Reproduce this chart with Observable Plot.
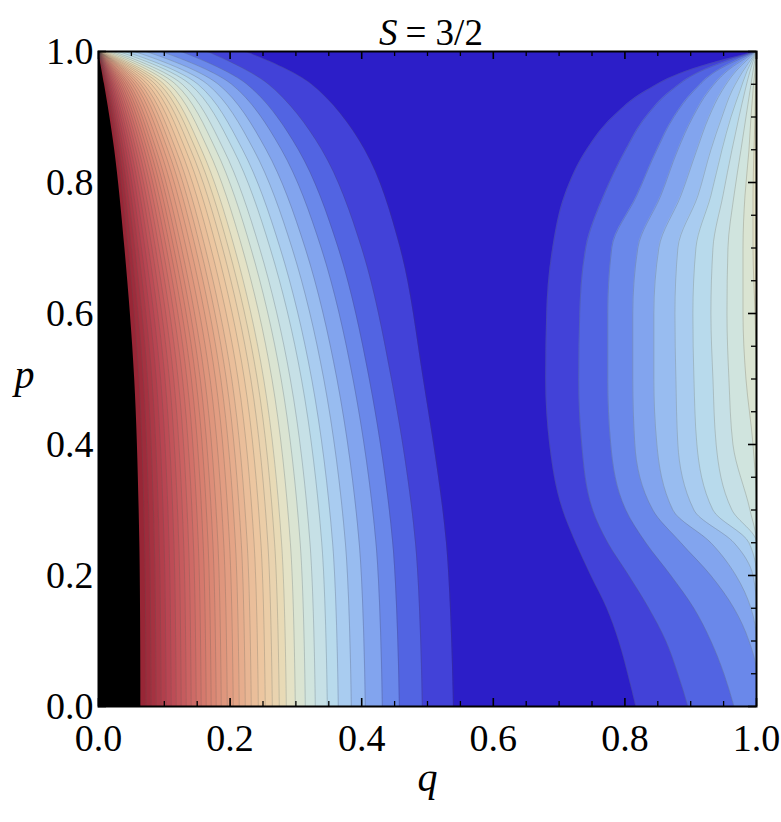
<!DOCTYPE html>
<html>
<head>
<meta charset="utf-8">
<script src="https://cdn.jsdelivr.net/npm/d3@7"></script>
<script src="https://cdn.jsdelivr.net/npm/@observablehq/plot@0.6"></script>
<style>
  html, body { margin: 0; padding: 0; background: #ffffff; }
  svg text { font-family: "Liberation Serif", "DejaVu Serif", "DejaVu Sans", sans-serif; font-stretch: condensed; font-weight: normal; }
</style>
</head>
<body>
<div id="chart"></div>
<script>
// ---------------- Data ----------------
const titleSymbol = "S";
const titleValue = "= 3/2";
const xLabel = "q";
const yLabel = "p";
const majorTicks = [0, 0.2, 0.4, 0.6, 0.8, 1.0];
const tickLabels = ["0.0", "0.2", "0.4", "0.6", "0.8", "1.0"];
const minorTicks = [0.05, 0.1, 0.15, 0.25, 0.3, 0.35, 0.45, 0.5, 0.55, 0.65, 0.7, 0.75, 0.85, 0.9, 0.95];

// Left family of contours: q-position of each contour line (k0 = edge of the
// dark-blue plateau ... k37 = edge of the black region) at the p-levels below.
const leftP = [0, 0.25, 0.5, 0.7, 0.85, 0.95, 1];
const leftQ_p000 = [.5396,.4924,.4574,.4315,.4056,.3843,.3645,.3478,.3295,.3143,.2991,.2854,.2747,.2641,.2534,.2428,.2321,.2230,.2138,.2047,.1956,.1865,.1788,.1712,.1636,.1560,.1484,.1408,.1332,.1256,.1180,.1104,.1027,.0951,.0875,.0799,.0723,.0647];
const leftQ_p025 = [.5288,.4818,.4472,.4217,.3962,.3752,.3558,.3393,.3214,.3065,.2916,.2782,.2676,.2573,.2468,.2364,.2259,.2170,.2080,.1991,.1903,.1814,.1738,.1664,.1590,.1516,.1442,.1368,.1294,.1220,.1146,.1072,.0997,.0923,.0849,.0775,.0701,.0628];
const leftQ_p050 = [.4937,.4453,.4116,.3868,.3624,.3424,.3240,.3084,.2915,.2775,.2636,.2510,.2412,.2315,.2217,.2121,.2025,.1942,.1859,.1778,.1696,.1615,.1546,.1479,.1411,.1344,.1277,.1210,.1143,.1077,.1011,.0944,.0878,.0812,.0746,.0681,.0615,.0550];
const leftQ_p070 = [.4587,.4000,.3644,.3385,.3141,.2941,.2760,.2608,.2448,.2315,.2185,.2068,.1975,.1885,.1795,.1708,.1622,.1548,.1475,.1402,.1332,.1262,.1203,.1144,.1087,.1031,.0975,.0920,.0866,.0812,.0759,.0706,.0653,.0602,.0551,.0500,.0451,.0401];
const leftQ_p085 = [.4047,.3394,.3038,.2781,.2548,.2359,.2190,.2049,.1904,.1784,.1668,.1565,.1482,.1401,.1324,.1249,.1177,.1113,.1052,.0992,.0935,.0878,.0831,.0784,.0739,.0696,.0653,.0611,.0570,.0531,.0492,.0454,.0417,.0381,.0346,.0312,.0278,.0246];
const leftQ_p095 = [.3238,.2583,.2256,.2023,.1820,.1655,.1511,.1391,.1272,.1173,.1079,.0997,.0929,.0864,.0804,.0745,.0691,.0642,.0597,.0553,.0512,.0472,.0439,.0406,.0375,.0346,.0318,.0292,.0266,.0242,.0219,.0198,.0177,.0158,.0139,.0122,.0106,.0091];
const leftQ_p100 = [.223,.165,.125,.095,.072,.054,.040,.030,.022,.016,.011,.007,.004,.002,.001,0,0,0,0,0,0,0,0,0,0,0,0,0,0,0,0,0,0,0,0,0,0,0];

// Right family of contours (r0 = edge of the dark-blue plateau ... r10 hugging the right edge):
// q-position of each line at the p-levels below (1 = on the right edge).
const rightP = [0, 0.05, 0.1, 0.15, 0.2, 0.25, 0.3, 0.4, 0.5, 0.6, 0.7, 0.78, 0.85, 0.9, 0.94, 0.97, 1];
const rightQ_r0  = [.8166,.8044,.7907,.7725,.7481,.7252,.7055,.6857,.6796,.6811,.6903,.7085,.7420,.7816,.8318,.8928,1];
const rightQ_r1  = [.8958,.8805,.8623,.8364,.8059,.7740,.7511,.7344,.7298,.7314,.7405,.7679,.8014,.8318,.8699,.9155,1];
const rightQ_r2  = [.9658,.9505,.9307,.9049,.8699,.8318,.8014,.7785,.7740,.7740,.7800,.8181,.8486,.8744,.9049,.9387,1];
const rightQ_r3  = [1,1,.9886,.9658,.9307,.8851,.8425,.8151,.8120,.8120,.8196,.8546,.8805,.9033,.9277,.9551,1];
const rightQ_r4  = [1,1,1,.9916,.9688,.9307,.8729,.8486,.8440,.8440,.8516,.8851,.9094,.9277,.9475,.9688,1];
const rightQ_r5  = [1,1,1,1,.9947,.9658,.9049,.8805,.8775,.8760,.8805,.9110,.9307,.9475,.9627,.9795,1];
const rightQ_r6  = [1,1,1,1,1,.9886,.9338,.9094,.9049,.9033,.9079,.9307,.9475,.9612,.9749,.9855,1];
const rightQ_r7  = [1,1,1,1,1,1,.9627,.9387,.9338,.9307,.9338,.9490,.9627,.9734,.9825,.9901,1];
const rightQ_r8  = [1,1,1,1,1,1,.9901,.9642,.9581,.9551,.9566,.9658,.9764,.9840,.9901,.9947,1];
const rightQ_r9  = [1,1,1,1,1,1,1,.9947,.9840,.9795,.9795,.9825,.9886,.9916,.9947,.9977,1];
const rightQ_r10 = [1,1,1,1,1,1,1,1,1,.9977,.9947,.9947,.9962,.9977,.9985,1,1];

// Colour of each band (index 0 = plateau, 38 = black clipped region)
const bandStops  = [0, 1, 2, 3, 4, 5, 6, 7, 8, 9, 10, 11, 12, 15, 19, 24, 28, 32, 37, 38];
const bandColors = ["#2c1ec8","#4242d8","#5264e2","#6a88ea","#82a4ee","#98bcf0","#a9ccf0","#b8daec","#c6e0e6","#d0e4de","#dae4d2","#e4e2c6","#e8dab6","#ecc6a0","#e4a486","#d88070","#cb6262","#b84552","#982636","#000000"];

// ---------------- Build tables ----------------
const leftRows = [leftQ_p000, leftQ_p025, leftQ_p050, leftQ_p070, leftQ_p085, leftQ_p095, leftQ_p100];
const nLeft = leftQ_p000.length;
const leftLines = [];
for (let k = 0; k < nLeft; k++) {
  for (let j = 0; j < leftP.length; j++) {
    leftLines.push({line: k, band: k + 1, p: leftP[j], q: leftRows[j][k]});
  }
}
const rightCols = [rightQ_r0, rightQ_r1, rightQ_r2, rightQ_r3, rightQ_r4, rightQ_r5, rightQ_r6, rightQ_r7, rightQ_r8, rightQ_r9, rightQ_r10];
const rightLines = [];
rightCols.forEach((col, i) => {
  col.forEach((q, j) => rightLines.push({line: i, band: i + 1, p: rightP[j], q}));
});

// ---------------- Layout ----------------
const W = 781, H = 822;
const mL = 98, mR = 25, mT = 51, mB = 116;
const innerW = W - mL - mR, innerH = H - mT - mB;
const fontStack = "Liberation Serif, DejaVu Serif, DejaVu Sans, sans-serif";
const lineStyle = {stroke: "#4a4a4a", strokeOpacity: 0.3, strokeWidth: 0.8};

const chart = Plot.plot({
  width: W,
  height: H,
  marginLeft: mL,
  marginRight: mR,
  marginTop: mT,
  marginBottom: mB,
  style: {background: "#ffffff", color: "#000"},
  x: {domain: [0, 1], axis: null},
  y: {domain: [0, 1], axis: null},
  color: {type: "linear", domain: bandStops, range: bandColors, interpolate: "rgb"},
  marks: [
    Plot.frame({fill: bandColors[0], stroke: null}),
    Plot.areaX(leftLines, {y: "p", x1: 0, x2: "q", z: "line", fill: "band", curve: "catmull-rom", clip: true}),
    Plot.areaX(rightLines, {y: "p", x1: "q", x2: 1, z: "line", fill: "band", curve: "monotone-y", clip: true}),
    Plot.line(leftLines.filter(d => d.line < nLeft - 1), {x: "q", y: "p", z: "line", curve: "catmull-rom", clip: true, ...lineStyle}),
    Plot.line(rightLines, {x: "q", y: "p", z: "line", curve: "monotone-y", clip: true, ...lineStyle}),
    // inward frame ticks
    Plot.tickX(majorTicks, {x: d => d, insetTop: innerH - 8, stroke: "#000", strokeWidth: 1.6}),
    Plot.tickX(minorTicks, {x: d => d, insetTop: innerH - 5, stroke: "#000", strokeWidth: 1.3}),
    Plot.tickX(majorTicks, {x: d => d, insetBottom: innerH - 8, stroke: "#000", strokeWidth: 1.6}),
    Plot.tickX(minorTicks, {x: d => d, insetBottom: innerH - 5, stroke: "#000", strokeWidth: 1.3}),
    Plot.tickY(majorTicks, {y: d => d, insetRight: innerW - 8, stroke: "#000", strokeWidth: 1.6}),
    Plot.tickY(minorTicks, {y: d => d, insetRight: innerW - 5, stroke: "#000", strokeWidth: 1.3}),
    Plot.tickY(majorTicks, {y: d => d, insetLeft: innerW - 8, stroke: "#000", strokeWidth: 1.6}),
    Plot.tickY(minorTicks, {y: d => d, insetLeft: innerW - 5, stroke: "#000", strokeWidth: 1.3}),
    Plot.frame({stroke: "#000", strokeWidth: 2}),
    // tick labels
    Plot.axisX(majorTicks, {anchor: "bottom", tickSize: 0, tickPadding: 18, fontSize: 38, fontFamily: fontStack, label: null,
      tickFormat: d => tickLabels[majorTicks.indexOf(d)]}),
    Plot.axisY(majorTicks, {anchor: "left", tickSize: 0, tickPadding: 5, fontSize: 38, fontFamily: fontStack, label: null,
      tickFormat: d => tickLabels[majorTicks.indexOf(d)]}),
    // title and axis labels
    Plot.text([titleSymbol], {frameAnchor: "top", dx: -30, dy: -33, textAnchor: "end", fontSize: 37, fontFamily: fontStack, fontStyle: "italic", text: d => d}),
    Plot.text([titleValue], {frameAnchor: "top", dx: -22, dy: -33, textAnchor: "start", fontSize: 37, fontFamily: fontStack, text: d => d}),
    Plot.text([xLabel], {frameAnchor: "bottom", dy: 84, fontSize: 40, fontFamily: fontStack, fontStyle: "italic", text: d => d}),
    Plot.text([yLabel], {frameAnchor: "left", dx: -84, dy: -4, fontSize: 40, fontFamily: fontStack, fontStyle: "italic", text: d => d})
  ]
});
document.getElementById("chart").appendChild(chart);
</script>
</body>
</html>
